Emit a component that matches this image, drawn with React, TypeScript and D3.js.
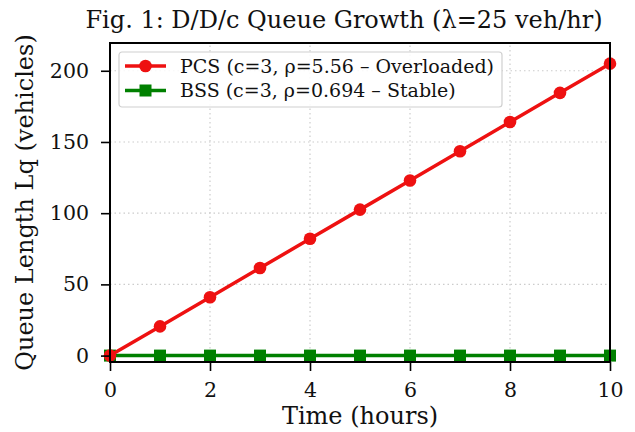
import React, { useEffect, useRef } from 'react';
import * as d3 from 'd3';

const hours = [0, 1, 2, 3, 4, 5, 6, 7, 8, 9, 10];
const pcsQueue = [0, 20.5, 41, 61.5, 82, 102.5, 123, 143.5, 164, 184.5, 205];
const bssQueue = [0, 0, 0, 0, 0, 0, 0, 0, 0, 0, 0];
const xTicks = [0, 2, 4, 6, 8, 10];
const yTicks = [0, 50, 100, 150, 200];
const seriesLabels = ['PCS (c=3, ρ=5.56 – Overloaded)', 'BSS (c=3, ρ=0.694 – Stable)'];

const W = 635;
const H = 432;
const margin = { left: 110, right: 25, top: 43, bottom: 70 };
const font = 'DejaVu Serif, serif';

const App = () => {
    const svgRef = useRef<SVGSVGElement>(null);

    useEffect(() => {
        const svg = d3.select(svgRef.current);
        svg.selectAll('*').remove();

        const x = d3.scaleLinear().domain([0, 10]).range([margin.left, W - margin.right]);
        const y = d3.scaleLinear().domain([-4.5, 219.5]).range([H - margin.bottom, margin.top]);

        // grid
        const grid = svg.append('g').attr('stroke', '#cccccc').attr('stroke-width', 1.2).attr('stroke-dasharray', '1.5,3');
        xTicks.forEach(t => {
            grid.append('line').attr('x1', x(t)).attr('x2', x(t)).attr('y1', y.range()[0]).attr('y2', y.range()[1]);
        });
        yTicks.forEach(t => {
            grid.append('line').attr('x1', x.range()[0]).attr('x2', x.range()[1]).attr('y1', y(t)).attr('y2', y(t));
        });

        // lines
        const line = d3.line<number>().x((d, i) => x(hours[i])).y(d => y(d));
        svg.append('path').datum(bssQueue).attr('d', line).attr('fill', 'none')
            .attr('stroke', '#008000').attr('stroke-width', 3.5);
        svg.selectAll('.sq').data(bssQueue).enter().append('rect')
            .attr('x', (d, i) => x(hours[i]) - 6).attr('y', d => y(d) - 6)
            .attr('width', 12).attr('height', 12).attr('fill', '#008000');

        svg.append('path').datum(pcsQueue).attr('d', line).attr('fill', 'none')
            .attr('stroke', '#ee1111').attr('stroke-width', 3.5);
        svg.selectAll('.dot').data(pcsQueue).enter().append('circle')
            .attr('cx', (d, i) => x(hours[i])).attr('cy', d => y(d))
            .attr('r', 6.3).attr('fill', '#ee1111');

        // frame
        svg.append('rect').attr('x', x.range()[0]).attr('y', y.range()[1])
            .attr('width', x.range()[1] - x.range()[0]).attr('height', y.range()[0] - y.range()[1])
            .attr('fill', 'none').attr('stroke', '#000').attr('stroke-width', 2);

        // axes
        const xAxis = svg.append('g').attr('transform', `translate(0,${H - margin.bottom})`)
            .call(d3.axisBottom(x).tickValues(xTicks).tickSize(9).tickPadding(11).tickFormat(d3.format('d')));
        const yAxis = svg.append('g').attr('transform', `translate(${margin.left},0)`)
            .call(d3.axisLeft(y).tickValues(yTicks).tickSize(9).tickPadding(12).tickFormat(d3.format('d')));
        [xAxis, yAxis].forEach(a => {
            a.select('.domain').remove();
            a.selectAll('line').attr('stroke', '#000').attr('stroke-width', 1.6);
            a.selectAll('text').attr('font-family', font).attr('font-size', 20.5).attr('fill', '#111');
        });

        // labels
        svg.append('text').attr('x', (x.range()[0] + x.range()[1]) / 2).attr('y', 424)
            .attr('text-anchor', 'middle').attr('font-family', font).attr('font-size', 24)
            .attr('fill', '#111').text('Time (hours)');
        svg.append('text').attr('transform', `translate(33,${(y.range()[0] + y.range()[1]) / 2}) rotate(-90)`)
            .attr('text-anchor', 'middle').attr('font-family', font).attr('font-size', 24)
            .attr('fill', '#111').text('Queue Length Lq (vehicles)');
        svg.append('text').attr('x', 344).attr('y', 28)
            .attr('text-anchor', 'middle').attr('font-family', font).attr('font-size', 24)
            .attr('fill', '#111').text('Fig. 1: D/D/c Queue Growth (λ=25 veh/hr)');

        // legend
        const lg = svg.append('g').attr('transform', 'translate(119,52)');
        lg.append('rect').attr('width', 383).attr('height', 55).attr('rx', 3)
            .attr('fill', 'rgba(255,255,255,0.85)').attr('stroke', '#d0d0d0').attr('stroke-width', 1.2);
        const colors = ['#ee1111', '#008000'];
        seriesLabels.forEach((lab, i) => {
            const cy = 14 + i * 24.5;
            lg.append('line').attr('x1', 6).attr('x2', 47).attr('y1', cy).attr('y2', cy)
                .attr('stroke', colors[i]).attr('stroke-width', 3.5);
            if (i === 0) lg.append('circle').attr('cx', 26.5).attr('cy', cy).attr('r', 6.3).attr('fill', colors[i]);
            else lg.append('rect').attr('x', 20.5).attr('y', cy - 6).attr('width', 12).attr('height', 12).attr('fill', colors[i]);
            lg.append('text').attr('x', 61).attr('y', cy + 6.5).attr('font-family', font).attr('font-size', 19)
                .attr('fill', '#111').text(lab);
        });
    }, []);

    return <svg ref={svgRef} width={W} height={H} style={{ position: 'absolute', left: 0, top: 0 }}></svg>;
};

export default App;
